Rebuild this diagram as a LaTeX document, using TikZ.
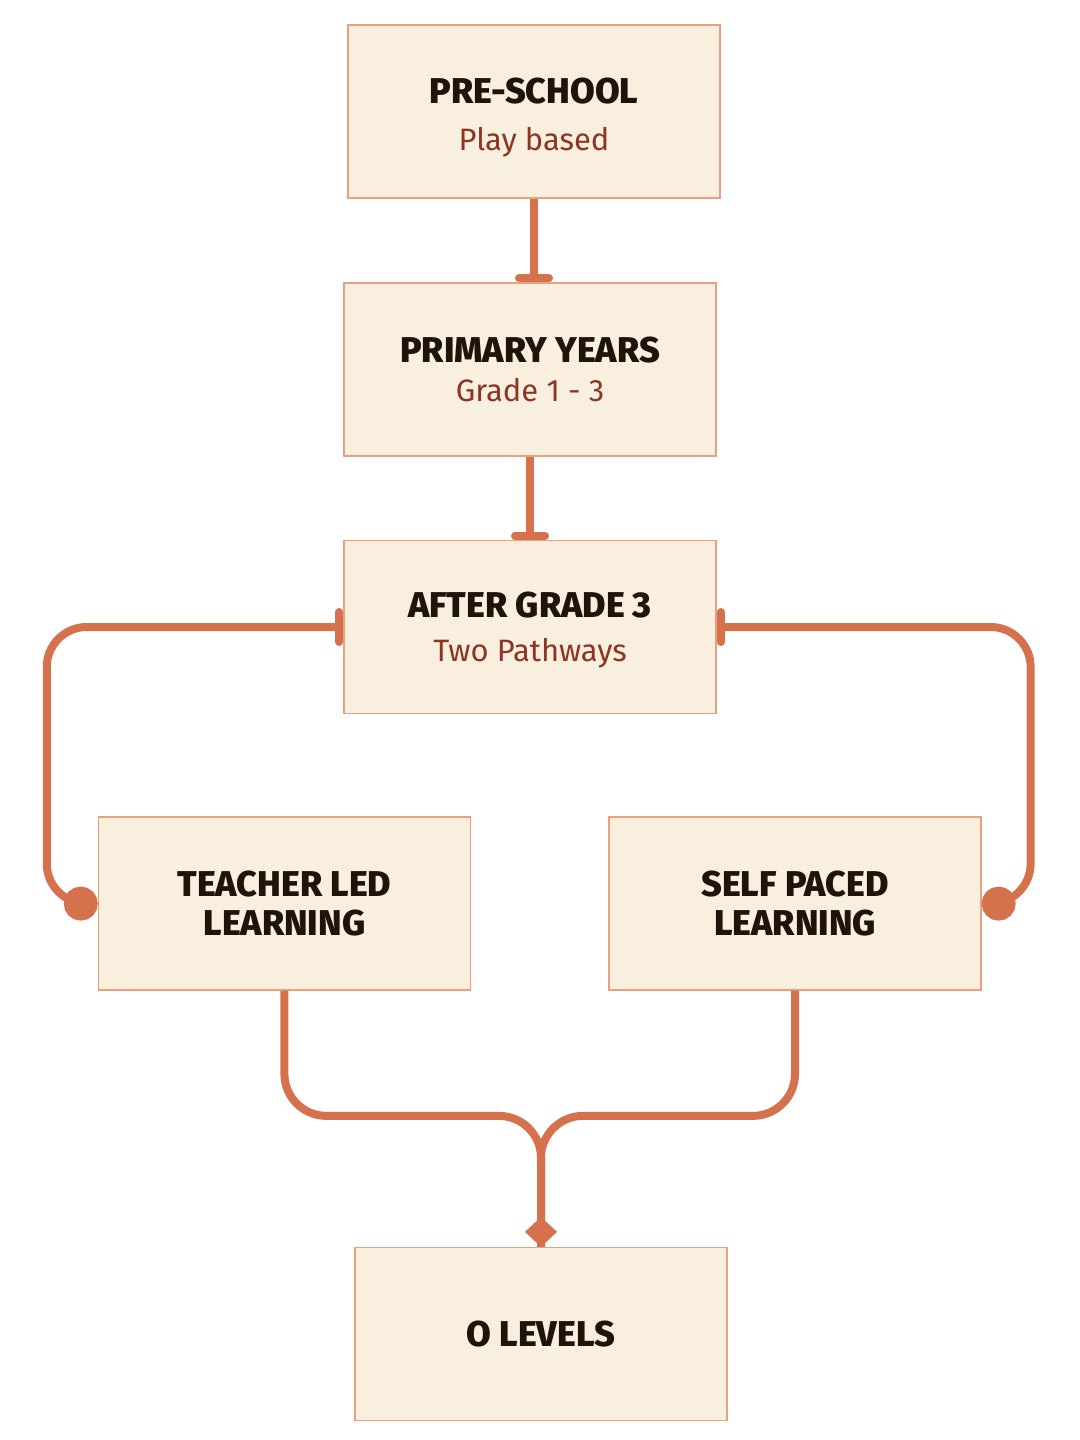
\documentclass[tikz,border=0pt]{standalone}
\usepackage{fontspec}
\setmainfont{Fira Sans}[BoldFont={Fira Sans ExtraBold}]
\usetikzlibrary{arrows.meta}
\definecolor{StageFill}{HTML}{F9EFDF}
\definecolor{StageLine}{HTML}{E9A07E}
\definecolor{FlowOrange}{HTML}{D6714E}
\definecolor{Ink}{HTML}{1E140A}
\definecolor{NoteRed}{HTML}{8E3422}
\newcommand{\stagenote}[1]{{\mdseries\fontsize{22}{26}\selectfont\color{NoteRed}#1}}

\begin{document}
\begin{tikzpicture}[
    stage/.style={
        draw=StageLine,
        fill=StageFill,
        line width=0.9pt,
        minimum width=9.3cm,
        minimum height=4.325cm,
        align=center,
        text=Ink,
        font=\fontsize{25.5}{30}\selectfont\bfseries
    },
    flow/.style={draw=FlowOrange, line width=2mm},
    pathway/.style={flow, {Bar[width=7.5mm,round]}-{Circle[length=8.5mm]}},
    merging/.style={flow, rounded corners=10.5mm}
]
\useasboundingbox (0,0) rectangle (27,-36);

% Stages
\node[stage] (pre) at (13.35,-2.79)
    {\rule{0pt}{27pt}PRE-SCHOOL\\[3.4pt]\stagenote{Play based}};
\node[stage] (primary) at (13.25,-9.24)
    {PRIMARY YEARS\\[-2.2pt]\stagenote{Grade 1 - 3}};
\node[stage] (after) at (13.25,-15.675)
    {\rule{0pt}{23pt}AFTER GRADE 3\\[1.3pt]\stagenote{Two Pathways}};

% Two pathways
\node[stage] (teacher) at (7.11,-22.59)
    {TEACHER LED\\[-2.2pt]LEARNING};
\node[stage] (self) at (19.875,-22.59)
    {SELF PACED\\[-2.2pt]LEARNING};

\node[stage] (olevels) at (13.525,-33.35) {O LEVELS};
\coordinate (merge) at ([yshift=32.75mm]olevels.north);

% Connectors
\draw[flow, -{Bar[width=7.5mm,round]}] (pre.south) -- (pre.south |- primary.north);
\draw[flow, -{Bar[width=7.5mm,round]}] (primary.south) -- (after.north);
\draw[pathway] (after.west) [rounded corners=10mm] -| ([xshift=-12.75mm]teacher.west)
    [rounded corners=4mm] -- (teacher.west);
\draw[pathway] (after.east) [rounded corners=10mm] -| ([xshift=12.25mm]self.east)
    [rounded corners=4mm] -- (self.east);
\draw[merging] (teacher.south) |- (merge) -- (olevels.north);
\draw[merging, -{Diamond[length=7.5mm,width=8mm]}] (self.south) |- (merge)
    -- (olevels.north);

\end{tikzpicture}
\end{document}
